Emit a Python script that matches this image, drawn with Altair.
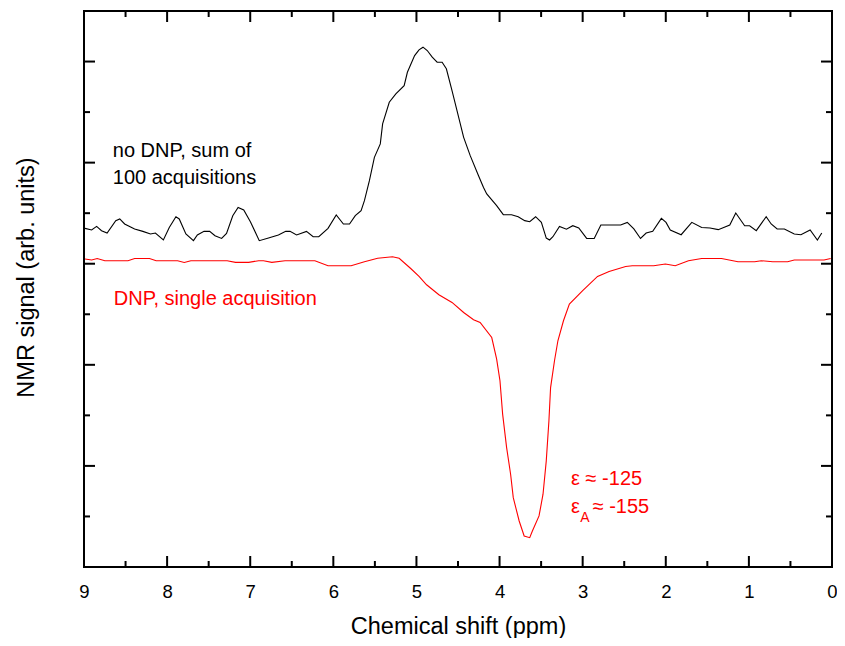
import altair as alt
import pandas as pd

# ---- data ----
# no DNP, sum of 100 acquisitions (black)
black_ppm = [8.988, 8.908, 8.848, 8.789, 8.722, 8.618, 8.570, 8.511, 8.391, 8.292,
             8.200, 8.141, 8.045, 7.974, 7.894, 7.854, 7.774, 7.683, 7.636, 7.556,
             7.488, 7.424, 7.344, 7.285, 7.210, 7.146, 7.078, 6.998, 6.891, 6.780,
             6.661, 6.573, 6.521, 6.442, 6.323, 6.243, 6.175, 6.064, 5.965, 5.879,
             5.805, 5.736, 5.666, 5.626, 5.566, 5.506, 5.435, 5.407, 5.327, 5.248,
             5.148, 5.109, 5.022, 4.969, 4.921, 4.870, 4.810, 4.751, 4.691, 4.640,
             4.572, 4.512, 4.432, 4.353, 4.253, 4.193, 4.154, 4.035, 3.955, 3.856,
             3.776, 3.697, 3.637, 3.566, 3.497, 3.438, 3.398, 3.358, 3.279, 3.195,
             3.119, 3.047, 2.952, 2.861, 2.781, 2.543, 2.463, 2.384, 2.304, 2.236,
             2.157, 2.053, 1.997, 1.946, 1.815, 1.687, 1.568, 1.468, 1.369, 1.230,
             1.158, 1.051, 0.991, 0.911, 0.792, 0.732, 0.660, 0.573, 0.454, 0.374,
             0.263, 0.176, 0.123]
black_sig = [0.350, 0.334, 0.369, 0.327, 0.304, 0.426, 0.443, 0.393, 0.344, 0.320,
             0.294, 0.304, 0.235, 0.359, 0.465, 0.443, 0.294, 0.228, 0.284, 0.320,
             0.320, 0.277, 0.250, 0.300, 0.475, 0.557, 0.532, 0.416, 0.228, 0.254,
             0.284, 0.320, 0.320, 0.284, 0.320, 0.267, 0.267, 0.350, 0.483, 0.393,
             0.393, 0.475, 0.525, 0.624, 0.822, 1.052, 1.185, 1.383, 1.597, 1.680,
             1.762, 1.894, 2.059, 2.116, 2.142, 2.109, 2.043, 1.993, 1.993, 1.928,
             1.713, 1.515, 1.250, 1.069, 0.871, 0.755, 0.690, 0.574, 0.485, 0.485,
             0.465, 0.426, 0.416, 0.465, 0.409, 0.254, 0.235, 0.267, 0.369, 0.342,
             0.376, 0.353, 0.250, 0.250, 0.383, 0.383, 0.409, 0.344, 0.250, 0.304,
             0.320, 0.449, 0.409, 0.334, 0.287, 0.409, 0.359, 0.353, 0.337, 0.383,
             0.502, 0.376, 0.376, 0.327, 0.465, 0.393, 0.344, 0.344, 0.294, 0.287,
             0.334, 0.235, 0.304]

# DNP, single acquisition (red)
red_ppm = [8.988, 8.908, 8.841, 8.749, 8.471, 8.391, 8.212, 8.132, 7.874, 7.794,
           7.714, 7.278, 7.177, 7.019, 6.899, 6.840, 6.740, 6.581, 6.222, 6.064,
           5.786, 5.626, 5.467, 5.288, 5.208, 5.069, 4.969, 4.878, 4.730, 4.572,
           4.432, 4.313, 4.234, 4.094, 4.035, 3.995, 3.963, 3.915, 3.867, 3.835,
           3.764, 3.704, 3.637, 3.605, 3.525, 3.477, 3.438, 3.406, 3.386, 3.339,
           3.298, 3.231, 3.160, 3.000, 2.821, 2.682, 2.483, 2.403, 2.145, 2.005,
           1.886, 1.727, 1.568, 1.329, 1.131, 0.931, 0.851, 0.713, 0.534, 0.454,
           0.096, 0.016]
red_sig = [0.047, 0.037, 0.052, 0.030, 0.030, 0.052, 0.052, 0.030, 0.030, 0.013,
           0.030, 0.030, 0.013, 0.013, 0.030, 0.030, 0.013, 0.030, 0.030, -0.020,
           -0.020, 0.020, 0.054, 0.069, 0.054, -0.047, -0.126, -0.208, -0.307, -0.383,
           -0.482, -0.554, -0.581, -0.730, -0.944, -1.158, -1.488, -1.819, -2.082, -2.314,
           -2.545, -2.693, -2.710, -2.644, -2.495, -2.280, -1.950, -1.554, -1.225, -0.960,
           -0.762, -0.564, -0.399, -0.267, -0.126, -0.076, -0.027, -0.020, -0.020, -0.003,
           -0.020, 0.030, 0.052, 0.052, 0.020, 0.020, 0.030, 0.020, 0.020, 0.037,
           0.037, 0.052]

# axis tick values
x_major = [0, 1, 2, 3, 4, 5, 6, 7, 8, 9]
x_minor = [0.5, 1.5, 2.5, 3.5, 4.5, 5.5, 6.5, 7.5, 8.5]
y_major = [-2, -1, 0, 1, 2]
y_minor = [-2.5, -1.5, -0.5, 0.5, 1.5]

# annotations
ann_text = ["no DNP, sum of", "100 acquisitions", "DNP, single acquisition",
            "ε ≈ -125", "ε", "A", "≈ -155"]
ann_x = [8.654, 8.654, 8.642, 3.139, 3.139, 3.030, 2.88]
ann_y = [1.059, 0.792, -0.406, -2.188, -2.465, -2.554, -2.465]
ann_color = ["black", "black", "#ff0000", "#ff0000", "#ff0000", "#ff0000", "#ff0000"]
ann_size = [20, 20, 20, 20, 20, 14, 20]

W, H = 748, 556
FONT = "Liberation Sans"

xscale = alt.Scale(domain=[0, 9], reverse=True, nice=False, zero=False)
yscale = alt.Scale(domain=[-3, 2.5], nice=False, zero=False)

x_axis = alt.Axis(values=x_major, format="d", labelFontSize=18.5, labelFont=FONT,
                  labelColor="black", labelPadding=15, labelFlush=False,
                  ticks=False, tickSize=0, domain=False, grid=False,
                  title="Chemical shift (ppm)", titleFontSize=23.5, titleFont=FONT,
                  titleFontWeight="normal", titleColor="black", titleY=66,
                  titleBaseline="alphabetic")
y_axis = alt.Axis(labels=False, ticks=False, tickSize=0, domain=False, grid=False,
                  title="NMR signal (arb. units)", titleFontSize=23.5, titleFont=FONT,
                  titleFontWeight="normal", titleColor="black", titleAngle=270,
                  titleX=-51, titleY=266, titleBaseline="alphabetic", titleAlign="center")

def X(field):
    return alt.X(field, scale=xscale, axis=x_axis, title="Chemical shift (ppm)")

def Y(field):
    return alt.Y(field, scale=yscale, axis=y_axis, title="NMR signal (arb. units)")

black_df = pd.DataFrame({"ppm": black_ppm, "sig": black_sig})
red_df = pd.DataFrame({"ppm": red_ppm, "sig": red_sig})

black_line = alt.Chart(black_df).mark_line(color="black", strokeWidth=1.1).encode(
    x=X("ppm:Q"), y=Y("sig:Q"))
red_line = alt.Chart(red_df).mark_line(color="#ff0000", strokeWidth=1.1).encode(
    x=X("ppm:Q"), y=Y("sig:Q"))

def xticks(vals, y0, y1):
    return alt.Chart(pd.DataFrame({"ppm": vals})).mark_rule(color="black", strokeWidth=2).encode(
        x=X("ppm:Q"), y=alt.value(y0), y2=alt.value(y1))

def yticks(vals, x0, x1):
    return alt.Chart(pd.DataFrame({"sig": vals})).mark_rule(color="black", strokeWidth=2).encode(
        y=Y("sig:Q"), x=alt.value(x0), x2=alt.value(x1))

ticks = [
    xticks(x_major, H, H - 11), xticks(x_minor, H, H - 6),
    xticks(x_major, 0, 11), xticks(x_minor, 0, 6),
    yticks(y_major, 0, 11), yticks(y_minor, 0, 6),
    yticks(y_major, W, W - 11), yticks(y_minor, W, W - 6),
]

ann_df = pd.DataFrame({"t": ann_text, "ppm": ann_x, "sig": ann_y,
                       "c": ann_color, "s": ann_size})
texts = alt.Chart(ann_df).mark_text(align="left", baseline="alphabetic", font=FONT).encode(
    x=X("ppm:Q"), y=Y("sig:Q"),
    text="t:N",
    color=alt.Color("c:N", scale=None),
    size=alt.Size("s:Q", scale=None),
)

chart = alt.layer(black_line, red_line, *ticks, texts).properties(
    width=W, height=H,
    autosize=alt.AutoSizeParams(type="none"),
    padding={"left": 76, "top": 3, "right": 5, "bottom": 71},
    background="white",
).configure_view(stroke="black", strokeWidth=2)

chart.save("out.html", embed_options={"renderer": "svg", "actions": False})
